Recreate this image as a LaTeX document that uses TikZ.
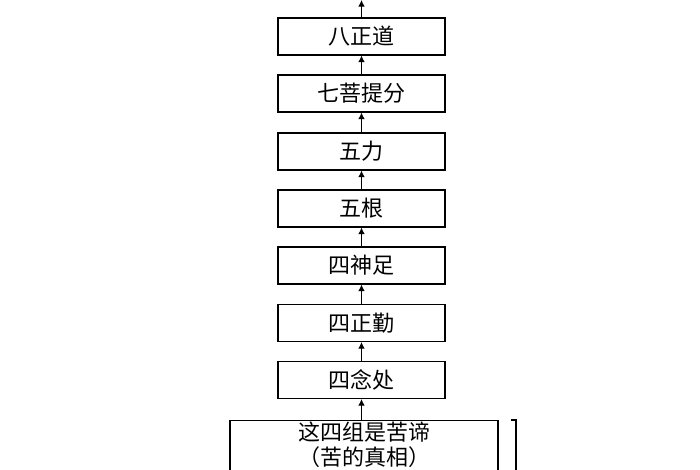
\documentclass[tikz,border=0pt]{standalone}
\usepackage{fontspec}
\setmainfont{Noto Sans CJK SC}
\usetikzlibrary{arrows.meta, positioning}
\tikzset{
    stage/.style={draw, thick, minimum width=167*0.75pt, minimum height=37*0.75pt, inner sep=0pt, font=\fontsize{16.5}{18}\selectfont},
    upG/.style={-{Latex[length=5pt,width=5pt]}, thick}
}
\begin{document}
\begin{tikzpicture}[x=0.75pt, y=-0.75pt]
    \clip (0,0) rectangle (700,470);
    \useasboundingbox (0,0) rectangle (700,470);
    \node[stage] (s8) at (361.5,36.5) {八正道};
    \node[stage] (s7) at (361.5,93.5) {七菩提分};
    \node[stage] (s6) at (361.5,151.5) {五力};
    \node[stage] (s5) at (361.5,208.5) {五根};
    \node[stage] (s4) at (361.5,265.5) {四神足};
    \node[stage] (s3) at (361.5,323) {四正勤};
    \node[stage] (s2) at (361.5,380) {四念处};
    \node[draw, thick, minimum width=268*0.75pt, anchor=north, align=center, inner sep=1pt,
          font=\fontsize{16.5}{19}\selectfont, text depth=40*0.75pt] (s1) at (364,420) {这四组是苦谛\\（苦的真相）};
    \coordinate (top) at (361.5,0);
    \draw[upG] (s8.north) -- (top);
    \foreach \a/\b in {s7/s8, s6/s7, s5/s6, s4/s5, s3/s4, s2/s3} {
        \draw[upG] (\a.north) -- (\b.south);
    }
    \draw[upG] (s1.north -| s2) -- (s2.south);
    \draw[thick] (511,420) -- (516,420) -- (516,470);
\end{tikzpicture}
\end{document}
